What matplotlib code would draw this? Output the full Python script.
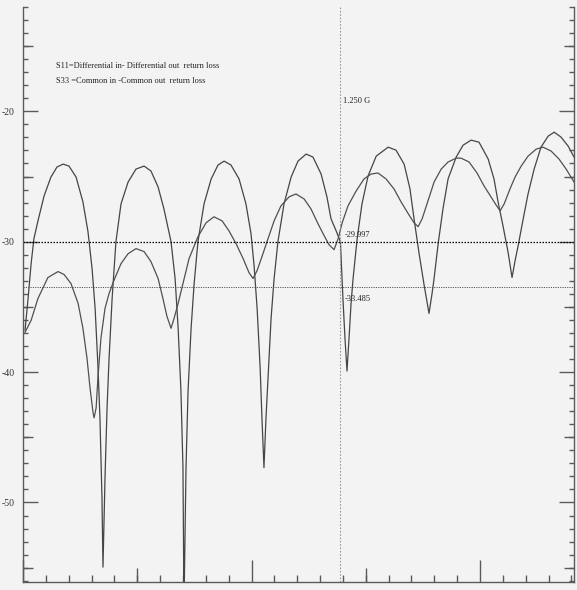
import numpy as np
import matplotlib
matplotlib.use('Agg')
import matplotlib.pyplot as plt
from matplotlib.ticker import MultipleLocator, FixedLocator, NullFormatter

# Return loss data (frequency in GHz, loss in dB) #####################################################################
freq_s11 = [0.008, 0.020, 0.032, 0.043, 0.059, 0.083, 0.110, 0.134, 0.158, 0.181, 0.209, 0.236, 0.256, 0.272,
            0.284, 0.295, 0.303, 0.311, 0.315, 0.323, 0.331, 0.339, 0.351, 0.366, 0.386, 0.414, 0.445, 0.477,
            0.504, 0.532, 0.555, 0.583, 0.599, 0.611, 0.622, 0.630, 0.634, 0.642, 0.650, 0.662, 0.674, 0.689,
            0.713, 0.741, 0.768, 0.792, 0.819, 0.851, 0.878, 0.898, 0.910, 0.922, 0.934, 0.941, 0.949, 0.957,
            0.965, 0.977, 0.989, 1.004, 1.028, 1.056, 1.083, 1.115, 1.142, 1.174, 1.197, 1.213, 1.233, 1.250,
            1.260, 1.268, 1.276, 1.284, 1.292, 1.300, 1.316, 1.335, 1.359, 1.391, 1.438, 1.469, 1.501, 1.524,
            1.540, 1.560, 1.580, 1.599, 1.611, 1.619, 1.635, 1.654, 1.674, 1.706, 1.733, 1.765, 1.796, 1.832,
            1.855, 1.871, 1.891, 1.910, 1.926, 1.938, 1.950, 1.970, 1.989, 2.013, 2.040, 2.068, 2.092, 2.119,
            2.147, 2.170]
s11_db = [-36.79, -34.35, -31.68, -29.77, -28.40, -26.49, -25.04, -24.27, -24.05, -24.20, -25.04, -26.95, -29.24,
          -32.06, -35.11, -39.47, -43.51, -49.62, -54.96, -48.09, -42.75, -38.93, -34.35, -30.00, -27.10, -25.42,
          -24.43, -24.20, -24.58, -25.80, -27.48, -30.00, -32.82, -36.64, -41.45, -47.33, -58.00, -47.33, -41.45,
          -36.64, -33.21, -30.00, -27.10, -25.19, -24.12, -23.82, -24.12, -25.19, -27.10, -29.39, -31.83, -35.11,
          -39.69, -43.51, -47.33, -43.51, -40.46, -35.88, -32.82, -30.00, -27.10, -25.04, -23.82, -23.28, -23.51,
          -24.81, -26.56, -28.24, -29.16, -30.00, -34.35, -37.40, -39.92, -37.40, -34.73, -32.82, -29.77, -27.10,
          -24.96, -23.44, -22.75, -22.98, -24.05, -25.95, -28.24, -30.92, -33.36, -35.50, -33.97, -32.82, -30.15,
          -27.48, -25.19, -23.51, -22.60, -22.21, -22.37, -23.66, -25.19, -26.95, -28.85, -30.76, -32.75, -31.45,
          -30.31, -28.24, -26.34, -24.43, -22.75, -21.91, -21.60, -21.98, -22.67, -23.51]

freq_s33 = [0.008, 0.032, 0.059, 0.098, 0.138, 0.162, 0.189, 0.217, 0.236, 0.252, 0.264, 0.276, 0.280, 0.288,
            0.295, 0.307, 0.323, 0.339, 0.358, 0.386, 0.414, 0.445, 0.477, 0.504, 0.532, 0.551, 0.567, 0.583,
            0.595, 0.611, 0.630, 0.654, 0.689, 0.721, 0.752, 0.784, 0.811, 0.839, 0.867, 0.890, 0.906, 0.922,
            0.941, 0.965, 0.989, 1.016, 1.048, 1.075, 1.107, 1.134, 1.162, 1.186, 1.205, 1.225, 1.241, 1.257,
            1.280, 1.312, 1.343, 1.371, 1.398, 1.430, 1.461, 1.489, 1.520, 1.540, 1.556, 1.572, 1.595, 1.619,
            1.647, 1.674, 1.706, 1.725, 1.757, 1.788, 1.816, 1.843, 1.863, 1.879, 1.895, 1.918, 1.938, 1.962,
            1.989, 2.021, 2.048, 2.080, 2.111, 2.139, 2.170]
s33_db = [-36.95, -36.03, -34.35, -32.75, -32.29, -32.52, -33.21, -34.73, -36.64, -38.93, -41.22, -43.13, -43.51,
          -42.75, -40.46, -37.40, -35.11, -33.97, -32.98, -31.68, -30.92, -30.53, -30.76, -31.53, -32.82, -34.35,
          -35.73, -36.64, -35.88, -34.73, -33.21, -31.30, -29.62, -28.55, -28.09, -28.40, -29.16, -30.15, -31.30,
          -32.37, -32.82, -32.21, -31.15, -29.77, -28.40, -27.25, -26.56, -26.34, -26.72, -27.48, -28.63, -29.54,
          -30.23, -30.61, -29.77, -28.55, -27.25, -26.11, -25.19, -24.81, -24.73, -25.19, -25.95, -26.95, -27.94,
          -28.55, -28.85, -28.24, -26.87, -25.42, -24.43, -23.89, -23.59, -23.59, -23.89, -24.73, -25.73, -26.56,
          -27.18, -27.63, -27.10, -25.95, -25.04, -24.20, -23.44, -22.90, -22.75, -23.05, -23.66, -24.43, -25.42]

marker_freq = 1.25
marker_s11 = -29.997
marker_s33 = -33.485
legend_lines = ['S11=Differential in- Differential out  return loss',
                'S33 =Common in -Common out  return loss']
y_ticks = [-20, -30, -40, -50]

# Figure ##############################################################################################################
bg = '#f3f3f3'
edge = '#5a5a5a'
fig = plt.figure(figsize=(5.77, 5.90), dpi=100, facecolor=bg)
ax = fig.add_axes([23 / 577, 8 / 590, 551 / 577, 575 / 590], facecolor=bg)

ax.plot(freq_s11, s11_db, color='#454545', lw=0.9)
ax.plot(freq_s33, s33_db, color='#505050', lw=0.9)

ax.axhline(marker_s11, color='black', lw=0.9, ls=(0, (1.2, 1.2)))
ax.axhline(marker_s33, color='#555555', lw=0.7, ls=(0, (1.2, 1.2)))
ax.axvline(marker_freq, color='#9a9a9a', lw=0.8, ls=(0, (1.5, 1.5)))

ax.set_xlim(0, 2.17)
ax.set_ylim(-56.1, -12.0)

serif = ['Liberation Serif', 'DejaVu Serif']
ax.text(0.130, -16.56, legend_lines[0], family=serif, fontsize=6, va='center', color='#222222')
ax.text(0.130, -17.71, legend_lines[1], family=serif, fontsize=6, va='center', color='#222222')
ax.text(1.262, -19.22, '1.250 G', family=serif, fontsize=6, va='center', color='#222222')
ax.text(1.268, -29.50, '%.3f' % marker_s11, family=serif, fontsize=6, va='center', color='#222222')
ax.text(1.268, -34.40, '%.3f' % marker_s33, family=serif, fontsize=6, va='center', color='#222222')

# spines and ticks
ax.spines['top'].set_visible(False)
for side in ['left', 'right', 'bottom']:
    ax.spines[side].set_color(edge)
    ax.spines[side].set_linewidth(1.0)

ax.yaxis.set_major_locator(FixedLocator(y_ticks))
ax.yaxis.set_minor_locator(MultipleLocator(1))
ax.set_yticklabels([str(t) for t in y_ticks], family=serif, fontsize=7, color='#333333')
ax.tick_params(axis='y', which='major', direction='in', left=True, right=True, length=11, width=1.0,
               color=edge, pad=6)
ax.tick_params(axis='y', which='minor', direction='in', left=True, right=True, length=3.5, width=1.0,
               color=edge)

ax.xaxis.set_major_locator(MultipleLocator(0.9))
ax.xaxis.set_minor_locator(MultipleLocator(0.09))
ax.xaxis.set_major_formatter(NullFormatter())
ax.tick_params(axis='x', which='major', direction='in', length=16, width=1.0, color=edge)
ax.tick_params(axis='x', which='minor', direction='in', length=5, width=1.0, color=edge)

# medium ticks every 5 dB / 0.45 GHz
for loc in ['left', 'right']:
    sec = ax.secondary_yaxis(loc)
    sec.set_yticks([-15, -25, -35, -45, -55])
    sec.tick_params(direction='in', length=7, width=1.0, color=edge, labelleft=False, labelright=False)
    sec.spines[loc].set_visible(False)
secx = ax.secondary_xaxis('bottom')
secx.set_xticks([0.45, 1.35])
secx.tick_params(direction='in', length=10, width=1.0, color=edge, labelbottom=False)
secx.spines['bottom'].set_visible(False)

fig.savefig('out.png', dpi=100, facecolor=bg)
